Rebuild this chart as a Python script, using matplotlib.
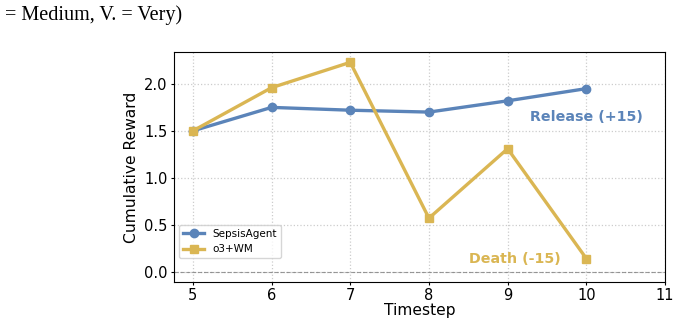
import matplotlib
matplotlib.use("Agg")
import matplotlib.pyplot as plt

timesteps = [5, 6, 7, 8, 9, 10]
sepsis_agent = [1.50, 1.75, 1.72, 1.70, 1.82, 1.95]
o3_wm = [1.50, 1.96, 2.23, 0.57, 1.31, 0.14]

blue = "#5b84b9"
gold = "#dab653"

fig = plt.figure(figsize=(6.8, 3.24), dpi=100)
ax = fig.add_axes([174 / 680, 1 - 282 / 324, (665 - 174) / 680, (282 - 52) / 324])

ax.plot(timesteps, sepsis_agent, color=blue, marker="o", lw=2.4, ms=6, label="SepsisAgent")
ax.plot(timesteps, o3_wm, color=gold, marker="s", lw=2.4, ms=6, label="o3+WM")
ax.axhline(0, color="gray", ls="--", lw=0.8, alpha=0.8)

ax.text(10.72, 1.645, "Release (+15)", color=blue, fontsize=10.3, fontweight="bold",
        ha="right", va="center")
ax.text(9.67, 0.14, "Death (-15)", color=gold, fontsize=10.3, fontweight="bold",
        ha="right", va="center")

ax.set_xlim(4.76, 11)
ax.set_ylim(-0.11, 2.34)
ax.set_xticks([5, 6, 7, 8, 9, 10, 11])
ax.set_yticks([0.0, 0.5, 1.0, 1.5, 2.0])
ax.set_xlabel("Timestep", fontsize=11.2, labelpad=0)
ax.set_ylabel("Cumulative Reward", fontsize=11.2, labelpad=4)
ax.tick_params(labelsize=10.5, length=2.5, pad=2)
ax.grid(True, ls=":", color="#cccccc", lw=0.9)
ax.legend(loc="lower left", fontsize=7.5, bbox_to_anchor=(0.0, 0.08))

fig.text(0.008, 0.985, "= Medium, V. = Very)", family="Liberation Serif",
         fontsize=14.5, va="top", ha="left")

fig.savefig("out.png", dpi=100)
